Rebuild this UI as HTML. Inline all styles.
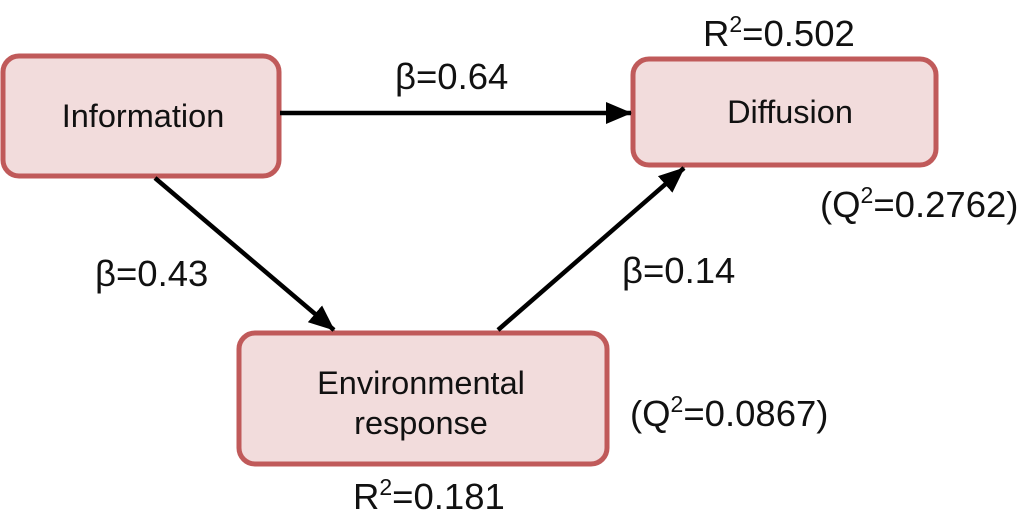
<!DOCTYPE html>
<html><head><style>html,body{margin:0;padding:0;background:#fff;}svg{display:block}</style></head>
<body>
<svg width="1024" height="528" xmlns="http://www.w3.org/2000/svg" font-family="Liberation Sans, Arial, sans-serif" font-size="36.5" fill="#111">
<defs>
<marker id="b" markerWidth="26" markerHeight="22" refX="25" refY="11" orient="auto" markerUnits="userSpaceOnUse"><path d="M0,0 L26,11 L0,22 z" fill="#000"/></marker></defs>
<g fill="#f2dcdc" stroke="#c05a5a" stroke-width="5">
<rect x="3" y="56" width="276" height="120" rx="16"/>
<rect x="633" y="59" width="303" height="106" rx="16"/>
<rect x="239" y="333" width="368" height="131" rx="16"/>
</g>
<g stroke="#000" stroke-width="4.5">
<line x1="280" y1="113" x2="631" y2="113" marker-end="url(#b)"/>
<line x1="155" y1="178" x2="334" y2="330" marker-end="url(#b)"/>
<line x1="498" y1="330" x2="684" y2="168" marker-end="url(#b)"/>
</g>
<g text-anchor="middle" font-size="32.5">
<text x="143" y="127">Information</text>
<text x="790" y="123">Diffusion</text>
<text x="421" y="394">Environmental</text>
<text x="421" y="434">response</text>
</g>
<text x="395" y="89">β=0.64</text>
<text x="703" y="46">R<tspan dy="-14" font-size="23">2</tspan><tspan dy="14">=0.502</tspan></text>
<text x="820" y="217">(Q<tspan dy="-14" font-size="23">2</tspan><tspan dy="14">=0.2762)</tspan></text>
<text x="95" y="286">β=0.43</text>
<text x="622" y="283">β=0.14</text>
<text x="630" y="426">(Q<tspan dy="-14" font-size="23">2</tspan><tspan dy="14">=0.0867)</tspan></text>
<text x="353" y="509">R<tspan dy="-14" font-size="23">2</tspan><tspan dy="14">=0.181</tspan></text>
</svg>
</body></html>
